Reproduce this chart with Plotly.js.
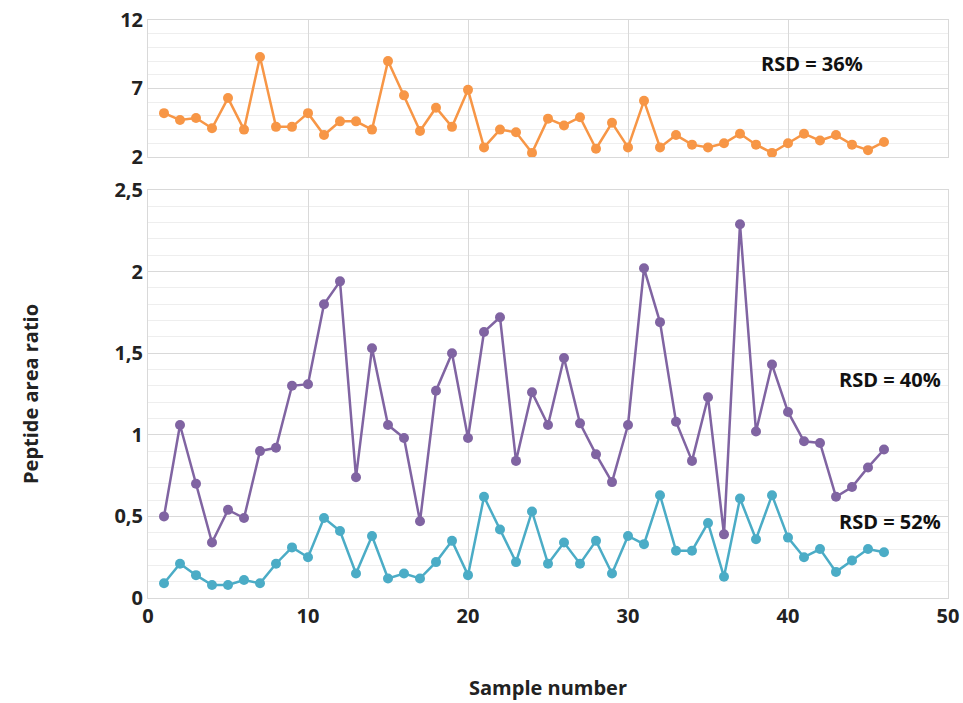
<!DOCTYPE html>
<html>
<head>
<meta charset="utf-8">
<script src="https://cdn.plot.ly/plotly-3.0.1.min.js"></script>
<style>body{margin:0;background:#fff}</style>
</head>
<body>
<div id="grafik" style="width:963px;height:703px"></div>
<script>
// data
const samples = Array.from({length: 46}, (_, i) => i + 1);
const orangeVals = [5.2,4.7,4.85,4.1,6.3,4.0,9.3,4.2,4.2,5.2,3.6,4.6,4.6,4.0,9.0,6.5,3.9,5.6,4.2,6.9,
  2.7,4.0,3.8,2.3,4.8,4.3,4.9,2.6,4.5,2.7,6.1,2.7,3.6,2.9,2.7,3.0,3.7,2.9,2.3,3.0,3.7,3.2,3.6,2.9,2.5,3.1];
const purpleVals = [0.5,1.06,0.7,0.34,0.54,0.49,0.9,0.92,1.3,1.31,1.8,1.94,0.74,1.53,1.06,0.98,0.47,1.27,1.5,0.98,
  1.63,1.72,0.84,1.26,1.06,1.47,1.07,0.88,0.71,1.06,2.02,1.69,1.08,0.84,1.23,0.39,2.29,1.02,1.43,1.14,0.96,0.95,0.62,0.68,0.8,0.91];
const cyanVals = [0.09,0.21,0.14,0.08,0.08,0.11,0.09,0.21,0.31,0.25,0.49,0.41,0.15,0.38,0.12,0.15,0.12,0.22,0.35,0.14,
  0.62,0.42,0.22,0.53,0.21,0.34,0.21,0.35,0.15,0.38,0.33,0.63,0.29,0.29,0.46,0.13,0.61,0.36,0.63,0.37,0.25,0.3,0.16,0.23,0.3,0.28];
const topTicks = [2, 7, 12];
const bottomTicks = [0, 0.5, 1, 1.5, 2, 2.5];
const bottomLabels = ["0", "0,5", "1", "1,5", "2", "2,5"];
const rsdLabels = ["RSD = 36%", "RSD = 40%", "RSD = 52%"];

const fam = "Open Sans, Liberation Sans, sans-serif";
const boldFont = {size: 20, color: "#222", family: fam, weight: "bold"};

function series(y, color, ax) {
  return {
    x: samples, y: y, mode: "lines+markers", type: "scatter",
    xaxis: ax === 2 ? "x2" : "x", yaxis: ax === 2 ? "y2" : "y",
    line: {color: color, width: 2.5}, marker: {color: color, size: 10},
    hoverinfo: "x+y"
  };
}

const data = [
  series(purpleVals, "#8064a2", 1),
  series(cyanVals, "#4bacc6", 1),
  series(orangeVals, "#f79646", 2)
];

const gridStyle = {gridcolor: "#d9d9d9", gridwidth: 1.2, showline: true, linecolor: "#d9d9d9", zeroline: false};

const layout = {
  showlegend: false,
  margin: {l: 148, r: 15, t: 20, b: 105},
  paper_bgcolor: "#fff", plot_bgcolor: "#fff",
  font: {family: fam, size: 20, color: "#222"},
  xaxis: Object.assign({
    range: [0, 50], dtick: 10, tick0: 0, anchor: "y", ticks: "",
    tickfont: boldFont, mirror: true,
    title: {text: "<b>Sample number</b>", font: {size: 20}, standoff: 52}
  }, gridStyle),
  yaxis: Object.assign({
    domain: [0, 0.706], range: [0, 2.5], tickvals: bottomTicks, ticktext: bottomLabels,
    ticks: "", mirror: true, tickfont: boldFont,
    minor: {dtick: 0.1, tick0: 0, showgrid: true, gridcolor: "#eeeeee", gridwidth: 1},
    title: {text: "<b>Peptide area ratio</b>", font: {size: 20}, standoff: 70}
  }, gridStyle),
  xaxis2: Object.assign({
    range: [0, 50], dtick: 10, anchor: "y2", showticklabels: false, ticks: "", mirror: true
  }, gridStyle),
  yaxis2: Object.assign({
    domain: [0.763, 1], range: [2, 12], tickvals: topTicks, ticks: "", mirror: true, anchor: "x2",
    tickfont: boldFont,
    minor: {dtick: 1, tick0: 2, showgrid: true, gridcolor: "#eeeeee", gridwidth: 1}
  }, gridStyle),
  annotations: [
    {xref: "x2", yref: "y2", x: 41.5, y: 8.8, text: "<b>" + rsdLabels[0] + "</b>", showarrow: false, xanchor: "center", font: {size: 20, color: "#111"}},
    {xref: "x", yref: "y", x: 49.7, y: 1.34, text: "<b>" + rsdLabels[1] + "</b>", showarrow: false, xanchor: "right", font: {size: 20, color: "#111"}},
    {xref: "x", yref: "y", x: 49.7, y: 0.47, text: "<b>" + rsdLabels[2] + "</b>", showarrow: false, xanchor: "right", font: {size: 20, color: "#111"}}
  ]
};

Plotly.newPlot("grafik", data, layout, {displayModeBar: false});
</script>
</body>
</html>
